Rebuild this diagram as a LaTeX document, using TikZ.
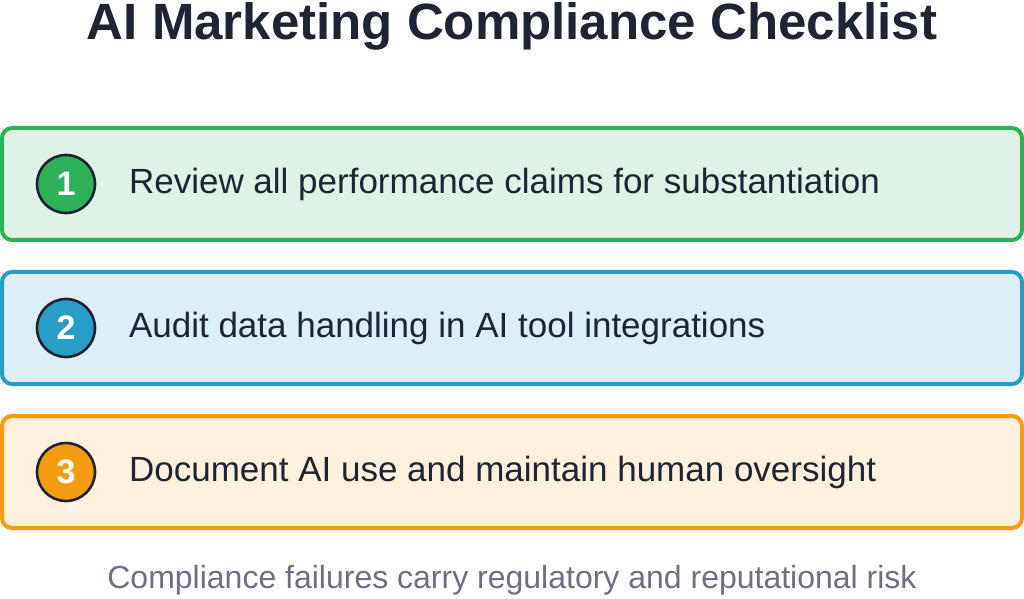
\documentclass[tikz,border=0pt]{standalone}
\usepackage{fontspec}
\setmainfont{Liberation Sans}
\definecolor{ink}{HTML}{1E2433}
\definecolor{greenline}{HTML}{2DB25A}
\definecolor{greenfill}{HTML}{DFF2E5}
\definecolor{blueline}{HTML}{2A9DC6}
\definecolor{bluefill}{HTML}{DDEEF6}
\definecolor{orangeline}{HTML}{F39C12}
\definecolor{orangefill}{HTML}{FDF0DC}
\definecolor{footgray}{HTML}{6E6E85}
\tikzset{
  rowbox/.style={draw, line width=2pt, rounded corners=5pt, minimum width=510pt, minimum height=56pt},
  numdot/.style={circle, draw=ink, line width=1.3pt, minimum size=29pt, inner sep=0pt, text=white, font=\fontsize{17}{17}\selectfont\bfseries},
  rowtext/.style={anchor=west, text=ink, font=\fontsize{17.5}{17.5}\selectfont}
}
\begin{document}
\begin{tikzpicture}[x=0.5pt,y=-0.5pt]
            \useasboundingbox (0,0) rectangle (1024,599);
            \node[font=\fontsize{25.5}{25.5}\selectfont\bfseries, text=ink] (title) at (512,26){AI Marketing Compliance Checklist};

            \node[rowbox, draw=greenline, fill=greenfill] (box1) at (512,184){};
            \node[numdot, fill=greenline] (num1) at (66,184){1};
            \node[rowtext] (txt1) at (122,184){Review all performance claims for substantiation};

            \node[rowbox, draw=blueline, fill=bluefill] (box2) at (512,328){};
            \node[numdot, fill=blueline] (num2) at (66,328){2};
            \node[rowtext] (txt2) at (122,328){Audit data handling in AI tool integrations};

            \node[rowbox, draw=orangeline, fill=orangefill] (box3) at (512,472){};
            \node[numdot, fill=orangeline] (num3) at (66,472){3};
            \node[rowtext] (txt3) at (122,472){Document AI use and maintain human oversight};

            \node[text=footgray, font=\fontsize{16}{16}\selectfont] (foot) at (512,580){Compliance failures carry regulatory and reputational risk};
        \end{tikzpicture}
\end{document}
